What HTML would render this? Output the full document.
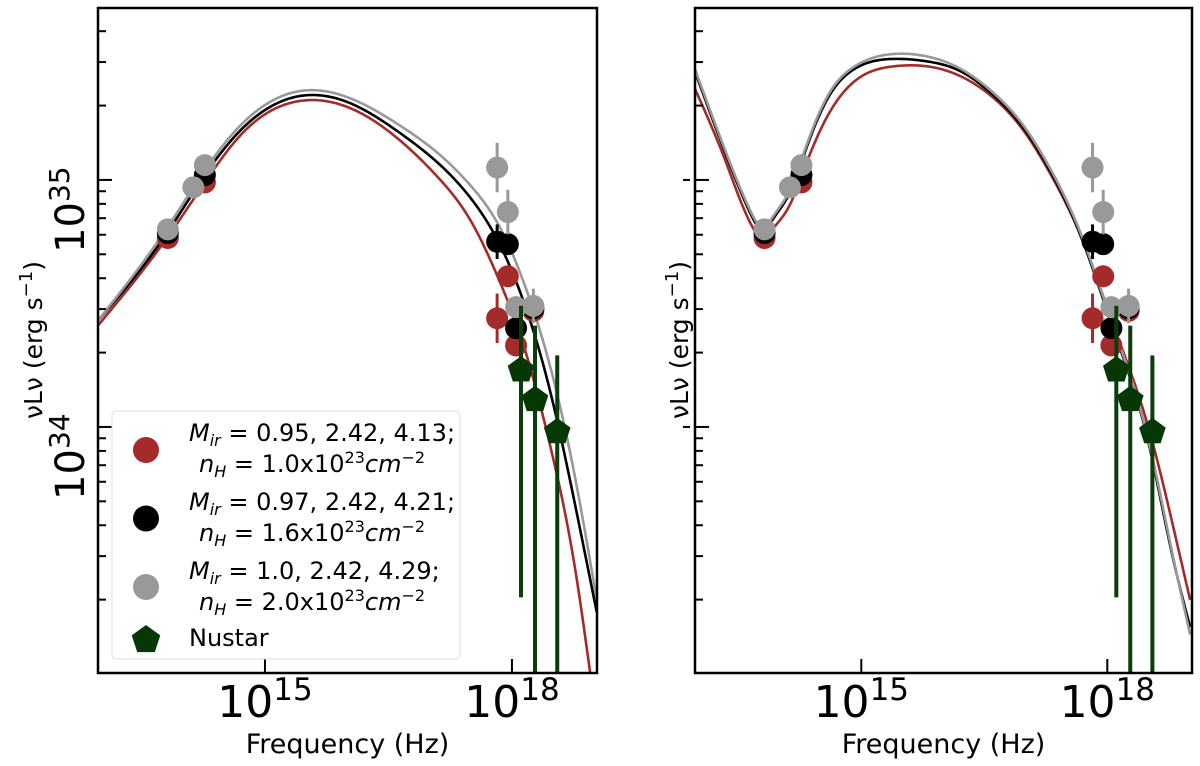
<!DOCTYPE html>
<html><head><meta charset="utf-8"><style>
body{margin:0;background:#fff;}
svg{display:block;font-family:"DejaVu Sans","Liberation Sans",sans-serif;}
</style></head><body>
<svg id="chart" width="1200" height="766" viewBox="0 0 1200 766" xmlns="http://www.w3.org/2000/svg"></svg>
<script>
// ---- data (log10 frequency, log10 nuLnu) ----
const redX=[13.82,14.27,17.82,17.95,18.05,18.26];
const redY=[34.765,34.99,34.44,34.61,34.33,34.47];
const blackX=[13.82,14.27,17.82,17.95,18.05,18.26];
const blackY=[34.785,35.02,34.75,34.74,34.40,34.48];
const grayX=[13.82,14.13,14.27,17.82,17.95,18.05,18.26];
const grayY=[34.80,34.97,35.06,35.05,34.87,34.485,34.49];
const grayErr=[0,0,0,0.10,0.09,0,0.07];
const redErr=[0,0,0.1,0,0,0];
const blackErr=[0,0,0.07,0,0,0];
const nuX=[18.11,18.28,18.55];
const nuY=[34.23,34.11,33.98];
const nuHi=[34.49,34.41,34.29];
const nuLo=[33.31,32.5,32.5];
// left model curves
const lCurveX=[12.97,13.82,14.27,14.70,15.43,16.04,16.64,17.13,17.49,17.85,18.16,18.46,18.77,19.03];
const lGrayY=[34.43,34.81,35.04,35.22,35.36,35.33,35.22,35.10,34.98,34.81,34.57,34.25,33.79,33.30];
const lBlackY=[34.43,34.79,35.02,35.20,35.34,35.31,35.19,35.06,34.93,34.74,34.49,34.15,33.68,33.25];
const lRedX=[12.97,13.82,14.27,14.70,15.43,16.04,16.64,17.13,17.49,17.85,18.16,18.46,18.77,18.98];
const lRedY=[34.41,34.77,34.99,35.18,35.32,35.29,35.16,35.00,34.84,34.59,34.31,33.93,33.42,32.93];
// right model curves
const rCurveX=[12.97,13.34,13.64,13.79,13.94,14.13,14.31,14.59,14.92,15.40,15.80,16.21,16.62,17.00,17.28,17.68,18.10,18.50,18.78,19.01];
const rGrayY=[35.45,35.12,34.88,34.81,34.86,34.96,35.12,35.34,35.46,35.51,35.50,35.45,35.35,35.21,35.06,34.78,34.38,33.95,33.51,33.16];
const rBlackY=[35.44,35.11,34.87,34.80,34.85,34.95,35.11,35.33,35.45,35.49,35.48,35.44,35.34,35.20,35.05,34.77,34.37,33.94,33.50,33.19];
const rRedY=[35.37,35.08,34.83,34.77,34.81,34.90,35.05,35.26,35.40,35.46,35.46,35.42,35.33,35.19,35.04,34.77,34.39,34.00,33.63,33.30];
const yMajor=[34,35];
const yMajorLabels=["34","35"];
const xMajor=[15,18];
const xMajorLabels=["15","18"];

const NS="http://www.w3.org/2000/svg";
const svg=document.getElementById('chart');
const X0=12.972,X1=19.033,Y0=33.004,Y1=35.696,TOP=8,BOT=673;
function mk(tag,attrs,parent){const e=document.createElementNS(NS,tag);for(const k in attrs)e.setAttribute(k,attrs[k]);(parent||svg).appendChild(e);return e;}
function sy(v){return BOT-(v-Y0)/(Y1-Y0)*(BOT-TOP);}
function splinePath(pts){const n=pts.length,x=pts.map(p=>p[0]),y=pts.map(p=>p[1]);
  const h=[],a=new Array(n).fill(0),b=new Array(n).fill(0),c=new Array(n).fill(0),r=new Array(n).fill(0);
  for(let i=0;i<n-1;i++)h.push(x[i+1]-x[i]);
  b[0]=1;b[n-1]=1;
  for(let i=1;i<n-1;i++){a[i]=h[i-1];b[i]=2*(h[i-1]+h[i]);c[i]=h[i];r[i]=6*((y[i+1]-y[i])/h[i]-(y[i]-y[i-1])/h[i-1]);}
  for(let i=1;i<n;i++){const w=a[i]/b[i-1];b[i]-=w*c[i-1];r[i]-=w*r[i-1];}
  const M=new Array(n);M[n-1]=r[n-1]/b[n-1];
  for(let i=n-2;i>=0;i--)M[i]=(r[i]-c[i]*M[i+1])/b[i];
  let s='';
  for(let i=0;i<n-1;i++){const steps=Math.max(2,Math.ceil(h[i]/2));
    for(let k=(i?1:0);k<=steps;k++){const t=x[i]+h[i]*k/steps;const A=(x[i+1]-t)/h[i],B=(t-x[i])/h[i];
      const v=A*y[i]+B*y[i+1]+((A*A*A-A)*M[i]+(B*B*B-B)*M[i+1])*h[i]*h[i]/6;
      s+=(s?'L':'M')+t.toFixed(2)+','+v.toFixed(2);}}
  return s;}
function pent(cx,cy,r){let p=[];for(let i=0;i<5;i++){const a=-Math.PI/2+i*2*Math.PI/5;p.push((cx+r*Math.cos(a)).toFixed(1)+','+(cy+r*Math.sin(a)).toFixed(1));}return p.join(' ');}

function panel(L,R,side,curves){
  const sx=v=>L+(v-X0)/(X1-X0)*(R-L);
  const g=mk('g',{});
  
  
  const defs=mk('clipPath',{id:'clip'+side},g);mk('rect',{x:L,y:TOP,width:R-L,height:BOT-TOP},defs);
  const plot=mk('g',{'clip-path':`url(#clip${side})`},g);
  curves.forEach(c=>{const p=mk('path',{d:splinePath(c.x.map((v,i)=>[sx(v),sy(c.y[i])])),fill:'none',stroke:c.col,'stroke-width':2.6,'stroke-linejoin':'round'},plot);
    
    });
  const series=[[redX,redY,redErr,'#a52a2a','red'],[blackX,blackY,blackErr,'#000','black'],[grayX,grayY,grayErr,'#999','gray']];
  series.forEach(([xs,ys,es,col,nm])=>{xs.forEach((v,i)=>{
    if(es[i]>0){const l=mk('line',{x1:sx(v),x2:sx(v),y1:sy(ys[i]+es[i]),y2:sy(ys[i]-es[i]),stroke:col,'stroke-width':3},plot);
      
      }
    const c=mk('circle',{cx:sx(v),cy:sy(ys[i]),r:11,fill:col},plot);
    
    });});
  nuX.forEach((v,i)=>{
    const l=mk('line',{x1:sx(v),x2:sx(v),y1:sy(nuHi[i]),y2:sy(nuLo[i]),stroke:'#0b3d0b','stroke-width':4},plot);
    
    
    const p=mk('polygon',{points:pent(sx(v),sy(nuY[i]),14),fill:'#053805'},plot);
    
    });
  const fr=mk('rect',{x:L,y:TOP,width:R-L,height:BOT-TOP,fill:'none',stroke:'#000','stroke-width':2.5},g);
  
  
  for(let d=33;d<=35;d++)for(let k=1;k<10;k++){const v=d+Math.log10(k);if(v<Y0||v>Y1)continue;const y=sy(v);const len=k==1?14:8;
    const t=mk('line',{x1:L,x2:L+len,y1:y,y2:y,stroke:'#000','stroke-width':2},g);
    
    }
  xMajor.forEach((v,i)=>{const x=sx(v);
    const t=mk('line',{x1:x,x2:x,y1:BOT,y2:BOT-14,stroke:'#000','stroke-width':2},g);
    
    
    const tx=mk('text',{x:x,y:717,'font-size':44,'text-anchor':'middle'},g);
    
    
    tx.innerHTML=`10<tspan dy="-17" font-size="31">${xMajorLabels[i]}</tspan>`;});
  const xl=mk('text',{x:(L+R)/2,y:753,'font-size':27,'text-anchor':'middle'},g);
  
  
  xl.textContent='Frequency (Hz)';
  const yx=side==='left'?42:688;
  const yl=mk('text',{x:yx,y:340,'font-size':25,'text-anchor':'middle',transform:`rotate(-90 ${yx} 340)`},g);
  
  
  yl.innerHTML='νLν (erg s<tspan dy="-10" font-size="18">−1</tspan><tspan dy="10">)</tspan>';
  return sx;
}
panel(98,597,'left',[{x:lRedX,y:lRedY,col:'#a52a2a',name:'red'},{x:lCurveX,y:lBlackY,col:'#000',name:'black'},{x:lCurveX,y:lGrayY,col:'#999',name:'gray'}]);
panel(695,1192,'right',[{x:rCurveX,y:rRedY,col:'#a52a2a',name:'red'},{x:rCurveX,y:rBlackY,col:'#000',name:'black'},{x:rCurveX,y:rGrayY,col:'#999',name:'gray'}]);
yMajor.forEach((v,i)=>{const cy=sy(v)+73;
  const t=mk('text',{x:84,y:cy,'font-size':40,'text-anchor':'start',transform:`rotate(-90 84 ${cy})`});
  
  
  t.innerHTML=`10<tspan dy="-15" font-size="28">${yMajorLabels[i]}</tspan>`;});
yMajor.forEach(v=>{const t=mk('line',{x1:683,x2:690,y1:sy(v),y2:sy(v),stroke:'#000','stroke-width':2});
  
  });
// legend
const lg=mk('g',{});


mk('rect',{x:112,y:411,width:348,height:248,rx:4,fill:'#fff','fill-opacity':0.85,stroke:'#ddd','stroke-width':1},lg);
const legCols=['#a52a2a','#000','#999'];
const legL1=['0.95, 2.42, 4.13;','0.97, 2.42, 4.21;','1.0, 2.42, 4.29;'];
const legL2=['1.0','1.6','2.0'];
legCols.forEach((c,i)=>{const b1=441+i*69,b2=472+i*69;
  const m=mk('circle',{cx:146,cy:450+i*68.5,r:13,fill:c},lg);
  
  
  const t1=mk('text',{x:189,y:b1,'font-size':24},lg);
  
  
  t1.innerHTML=`<tspan font-style="italic">M</tspan><tspan font-style="italic" font-size="16" dy="5">ir</tspan><tspan dy="-5"> = ${legL1[i]}</tspan>`;
  const t2=mk('text',{x:199,y:b2,'font-size':24},lg);
  
  
  t2.innerHTML=`<tspan font-style="italic">n</tspan><tspan font-style="italic" font-size="16" dy="5">H</tspan><tspan dy="-5"> = ${legL2[i]}x10</tspan><tspan font-size="16" dy="-9">23</tspan><tspan dy="9" font-style="italic">cm</tspan><tspan font-size="16" dy="-9">−2</tspan>`;});
const np=mk('polygon',{points:pent(146,640,15),fill:'#053805'},lg);


const nt=mk('text',{x:189,y:646,'font-size':24},lg);


nt.textContent='Nustar';
</script>
</body></html>
